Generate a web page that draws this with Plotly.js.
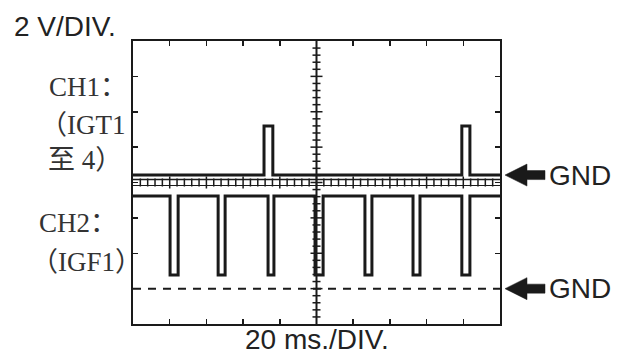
<!DOCTYPE html>
<html>
<head>
<meta charset="utf-8">
<script src="https://cdn.plot.ly/plotly-3.0.1.min.js"></script>
<style>html,body{margin:0;padding:0;background:#fff;}#chart{width:619px;height:356px;}</style>
</head>
<body>
<div id="chart"></div>
<script>
// Divisions: 10 horizontal (20 ms/div), 8 vertical (2 V/div)
var xDivs = 10;
var yDivs = 8;

// CH1 (IGT1-4) trace levels (in divisions) and pulse edges
var ch1Low = 4.21;
var ch1High = 5.60;
var ch1PulseStart = [3.57, 8.96];
var ch1PulseEnd   = [3.81, 9.18];

// CH2 (IGF1) trace levels and low-going pulse edges
var ch2High = 3.62;
var ch2Low = 1.385;
var ch2PulseStart = [1.01, 2.32, 3.68, 4.96, 6.32, 7.63, 8.96];
var ch2PulseEnd   = [1.23, 2.51, 3.84, 5.18, 6.51, 7.82, 9.18];

// Ground reference levels
var gnd1 = 4.21;
var gnd2 = 1.0;

var labelsLeft = ["CH1：", "（IGT1", "至 4）", "CH2：", "（IGF1）"];
var yUnit = "2 V/DIV.";
var xUnit = "20 ms./DIV.";
var gndText = "GND";

function pulseTrain(base, peak, starts, ends) {
  var xs = [0], ys = [base];
  for (var i = 0; i < starts.length; i++) {
    xs.push(starts[i], starts[i], ends[i], ends[i]);
    ys.push(base, peak, peak, base);
  }
  xs.push(xDivs); ys.push(base);
  return {x: xs, y: ys};
}

var p1 = pulseTrain(ch1Low, ch1High, ch1PulseStart, ch1PulseEnd);
var p2 = pulseTrain(ch2High, ch2Low, ch2PulseStart, ch2PulseEnd);

var ink = '#1a1a1a';
var traces = [
  {x: p1.x, y: p1.y, mode: 'lines', line: {color: ink, width: 3}, hoverinfo: 'skip'},
  {x: p2.x, y: p2.y, mode: 'lines', line: {color: ink, width: 3}, hoverinfo: 'skip'},
  {x: [0, xDivs], y: [gnd2, gnd2], mode: 'lines', line: {color: ink, width: 2, dash: '8px,7px'}, hoverinfo: 'skip'}
];

var shapes = [];
// centre graticule: vertical
shapes.push({type: 'line', xref: 'x', yref: 'y', x0: xDivs/2, x1: xDivs/2, y0: 0, y1: yDivs, line: {color: ink, width: 2}});
// centre graticule: horizontal double line
shapes.push({type: 'line', xref: 'x', yref: 'y', ysizemode: 'pixel', yanchor: yDivs/2, x0: 0, x1: xDivs, y0: 3, y1: 3, line: {color: ink, width: 1.5}});
shapes.push({type: 'line', xref: 'x', yref: 'y', ysizemode: 'pixel', yanchor: yDivs/2, x0: 0, x1: xDivs, y0: -3, y1: -3, line: {color: ink, width: 1.2}});
// minor ticks on centre lines (every 0.2 division)
for (var k = 1; k < xDivs * 5; k++) {
  var t = k / 5;
  var major = (k % 5 === 0);
  shapes.push({type: 'line', xref: 'x', yref: 'y', ysizemode: 'pixel', yanchor: yDivs/2,
    x0: t, x1: t, y0: major ? -6 : -4, y1: major ? 6 : 4, line: {color: ink, width: 1.5}});
}
for (var k = 1; k < yDivs * 5; k++) {
  var t = k / 5;
  var major = (k % 5 === 0);
  shapes.push({type: 'line', xref: 'x', yref: 'y', xsizemode: 'pixel', xanchor: xDivs/2,
    x0: major ? -6 : -4, x1: major ? 6 : 4, y0: t, y1: t, line: {color: ink, width: 1.5}});
}
// GND arrows
[gnd1, gnd2].forEach(function (g) {
  shapes.push({type: 'path', xref: 'paper', yref: 'y', xsizemode: 'pixel', ysizemode: 'pixel',
    xanchor: 1, yanchor: g,
    path: 'M 5 0 L 27 11 L 27 4.5 L 45 4.5 L 45 -4.5 L 27 -4.5 L 27 -11 Z',
    fillcolor: ink, line: {color: ink, width: 0.5}});
});

var sans = 'Liberation Sans, Arial, sans-serif';
var serif = 'Liberation Serif, Noto Sans CJK SC, serif';
var annotations = [
  {text: yUnit, xref: 'paper', yref: 'paper', x: -0.330, y: 1.050, xanchor: 'left', yanchor: 'middle', showarrow: false, font: {family: sans, size: 28, color: '#222'}},
  {text: xUnit, xref: 'x', yref: 'paper', x: xDivs/2, y: -0.056, xanchor: 'center', yanchor: 'middle', showarrow: false, font: {family: sans, size: 28, color: '#222'}},
  {text: gndText, xref: 'paper', yref: 'y', x: 1, xshift: 47, y: gnd1, xanchor: 'left', yanchor: 'middle', showarrow: false, font: {family: sans, size: 28, color: '#222'}},
  {text: gndText, xref: 'paper', yref: 'y', x: 1, xshift: 47, y: gnd2, xanchor: 'left', yanchor: 'middle', showarrow: false, font: {family: sans, size: 28, color: '#222'}}
];
var labelPos = [[47, 87], [38, 125], [46, 160], [37, 223], [29, 262]];
labelsLeft.forEach(function (s, i) {
  annotations.push({text: s, xref: 'paper', yref: 'paper',
    x: (labelPos[i][0] - 133) / 367, y: (324 - labelPos[i][1]) / 283,
    xanchor: 'left', yanchor: 'middle', showarrow: false,
    font: {family: serif, size: 27, color: '#333'}});
});

var axisCommon = {showgrid: false, zeroline: false, showline: true, mirror: 'ticks', linecolor: ink, linewidth: 2,
  ticks: 'inside', ticklen: 5, tickwidth: 1.5, tickcolor: ink, showticklabels: false, dtick: 1, tick0: 0, fixedrange: true};

var layout = {
  width: 619, height: 356,
  margin: {l: 133, r: 119, t: 41, b: 32, pad: 0},
  paper_bgcolor: '#fff', plot_bgcolor: '#fff',
  showlegend: false,
  xaxis: Object.assign({}, axisCommon, {range: [0, xDivs]}),
  yaxis: Object.assign({}, axisCommon, {range: [0, yDivs]}),
  shapes: shapes,
  annotations: annotations
};

Plotly.newPlot('chart', traces, layout, {staticPlot: true, displayModeBar: false});
</script>
</body>
</html>
